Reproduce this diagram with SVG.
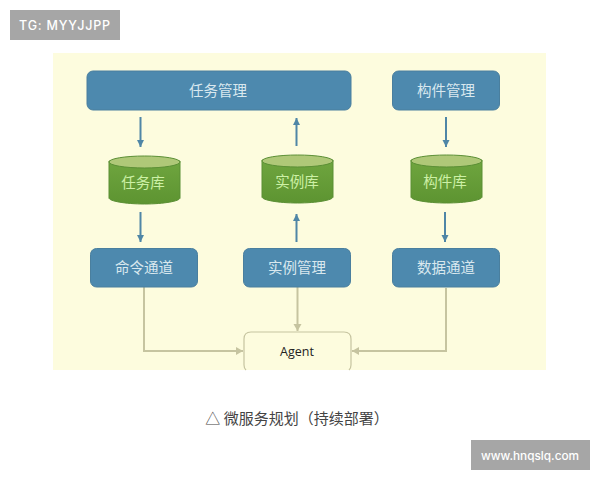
<svg xmlns="http://www.w3.org/2000/svg" width="600" height="480" viewBox="0 0 600 480">
<defs>
<marker id="blueHead" markerUnits="userSpaceOnUse" markerWidth="8" markerHeight="8" refX="7" refY="4" orient="auto"><path d="M0 0.500L7 4L0 7.500z" fill="#4f86a6"/></marker>
<marker id="tanHead" markerUnits="userSpaceOnUse" markerWidth="8" markerHeight="10" refX="7" refY="5" orient="auto"><path d="M0 1L7 5L0 9z" fill="#c6c4a0"/></marker>
<linearGradient id="cyl" x1="0" y1="0" x2="0" y2="1"><stop offset="0" stop-color="#6fa53f"/><stop offset="1" stop-color="#5d9431"/></linearGradient>
</defs>
<style>
text{font-family:"Noto Sans CJK SC","Liberation Sans",sans-serif;text-anchor:middle}
.box{fill:#4d89ae;stroke:#4a7f9e;stroke-width:1}
.boxt{fill:#d9e8ee;font-size:14.500px}
.cylb{fill:url(#cyl);stroke:#5b8f35;stroke-width:1}
.cylt{fill:#afc878;stroke:#5b8f35;stroke-width:1}
.cylx{fill:#cdf0a6;font-size:14.500px}
.blue{fill:none;stroke:#4f86a6;stroke-width:2;marker-end:url(#blueHead)}
.tan{fill:none;stroke:#c6c4a0;stroke-width:2;marker-end:url(#tanHead)}
.tag{fill:#a6a6a6}
.tagt{fill:#fff;font-family:"Inter",sans-serif;font-weight:500}
.agentt{fill:#222;font-family:"Open Sans",sans-serif;font-size:12.500px}
.cap{fill:#444;font-size:15px}
</style>
<rect x="53" y="53" width="493" height="317" fill="#fdfcde"/>
<g id="tag-left"><rect class="tag" x="10" y="10" width="110" height="30"/><text class="tagt" x="65" y="30" font-size="12.500" letter-spacing="0.800">TG: MYYJJPP</text></g>
<g id="tag-right"><rect class="tag" x="471" y="440" width="119" height="30"/><text class="tagt" x="530" y="459.500" font-size="11.800">www.hnqslq.com</text></g>
<g id="connectors">
<path class="blue" d="M140.500 117V147"/>
<path class="blue" d="M140.500 212V242"/>
<path class="blue" d="M296.500 146V118"/>
<path class="blue" d="M296.500 242V214"/>
<path class="blue" d="M446 117V147"/>
<path class="blue" d="M445 212V242"/>
<path class="tan" d="M144 287V351H243"/>
<path class="tan" d="M297.500 287V331"/>
<path class="tan" d="M446 288V351H352"/>
</g>
<g id="task-mgmt"><rect class="box" x="87" y="71" width="264" height="39" rx="6"/><text class="boxt" x="218" y="95.500">任务管理</text></g>
<g id="part-mgmt"><rect class="box" x="392.500" y="71" width="107" height="39" rx="6"/><text class="boxt" x="446" y="95.500">构件管理</text></g>
<g id="task-db"><path class="cylb" d="M109 161V198C109 201 125 204 144.500 204S180 201 180 198V161z"/><ellipse class="cylt" cx="144.500" cy="162" rx="35.500" ry="6"/><text class="cylx" x="143" y="188">任务库</text></g>
<g id="inst-db"><path class="cylb" d="M262 160V197C262 200 278 203 297.500 203S333 200 333 197V160z"/><ellipse class="cylt" cx="297.500" cy="161" rx="35.500" ry="6"/><text class="cylx" x="297" y="187">实例库</text></g>
<g id="part-db"><path class="cylb" d="M411 160V197C411 200 427 203 446.500 203S482 200 482 197V160z"/><ellipse class="cylt" cx="446.500" cy="161" rx="35.500" ry="6"/><text class="cylx" x="445" y="187">构件库</text></g>
<g id="cmd-channel"><rect class="box" x="90.500" y="248.500" width="107" height="38.500" rx="6"/><text class="boxt" x="144" y="273">命令通道</text></g>
<g id="inst-mgmt"><rect class="box" x="243.500" y="248.500" width="107" height="38.500" rx="6"/><text class="boxt" x="297" y="273">实例管理</text></g>
<g id="data-channel"><rect class="box" x="392.500" y="248.500" width="107" height="38.500" rx="6"/><text class="boxt" x="446" y="273">数据通道</text></g>
<g id="agent"><path d="M246 370Q244 368 244 365V339Q244 332 251 332H344Q351 332 351 339V365Q351 368 349 370" fill="#fdfcde" stroke="#c6c4a0" stroke-width="1.200"/><text class="agentt" x="297" y="356">Agent</text></g>
<text class="cap" x="297" y="424">△ 微服务规划（持续部署）</text>
</svg>
